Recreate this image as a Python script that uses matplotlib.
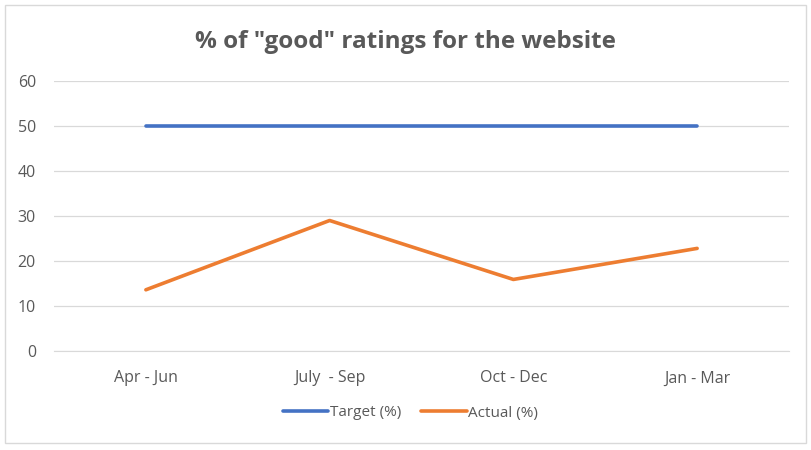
import matplotlib.pyplot as plt
from matplotlib.patches import Rectangle

# data
quarters = ['Apr - Jun', 'July  - Sep', 'Oct - Dec', 'Jan - Mar']
target = [50, 50, 50, 50]
actual = [13.6, 29.0, 15.9, 22.8]

plt.rcParams['font.family'] = ['Open Sans', 'DejaVu Sans']

def plot_ratings():
    fig = plt.figure(figsize=(8.11, 4.5), dpi=100)
    ax = fig.add_axes([54 / 811, 1 - 351 / 450, 735 / 811, 270 / 450])

    x = range(len(quarters))
    ax.plot(x, target, color='#4472C4', linewidth=2.6, solid_capstyle='round', label='Target (%)')
    ax.plot(x, actual, color='#ED7D31', linewidth=2.6, solid_capstyle='round', label='Actual (%)')

    ax.set_xlim(-0.5, len(quarters) - 0.5)
    ax.set_ylim(0, 60)
    ax.set_yticks(range(0, 61, 10))
    ax.set_xticks(list(x))
    ax.set_xticklabels(quarters)

    ax.grid(axis='y', color='#D9D9D9', linewidth=0.9)
    ax.set_axisbelow(True)
    for side in ['top', 'right', 'left']:
        ax.spines[side].set_visible(False)
    ax.spines['bottom'].set_color('#D9D9D9')
    ax.tick_params(axis='both', length=0, colors='#595959', labelsize=11.5)
    ax.tick_params(axis='y', pad=13)
    ax.tick_params(axis='x', pad=14)

    fig.text(0.5, 1 - 42 / 450, '% of "good" ratings for the website', ha='center', va='center',
             fontsize=17.5, fontweight='bold', color='#595959')

    fig.legend(loc='center', bbox_to_anchor=(0.506, 1 - 413 / 450), ncol=2, frameon=False,
               fontsize=11, labelcolor='#595959', handlelength=3.0, handletextpad=0.1,
               columnspacing=1.3)

    fig.patches.append(Rectangle((5 / 811, 1 - 443 / 450), 801 / 811, 438 / 450,
                                 transform=fig.transFigure, fill=False,
                                 edgecolor='#D9D9D9', linewidth=1))

    fig.savefig('out.png', dpi=100)

def main():
    plot_ratings()

if __name__ == "__main__":
    main()
